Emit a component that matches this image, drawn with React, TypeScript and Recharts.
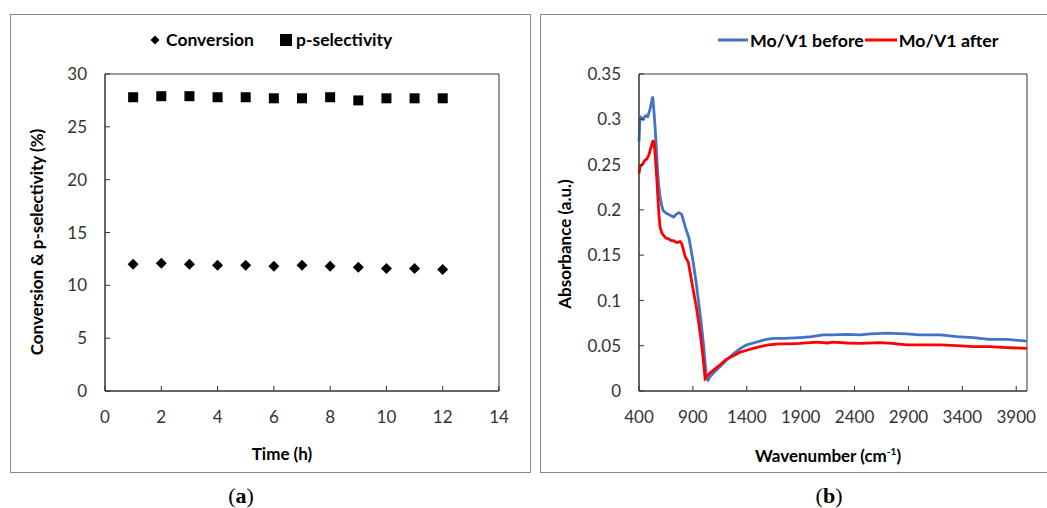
import React from 'react'
import {
  ScatterChart,
  Scatter,
  LineChart,
  Line,
  XAxis,
  YAxis,
  ReferenceArea,
} from 'recharts'

// panel (a): stability over time
const timeHours = [1, 2, 3, 4, 5, 6, 7, 8, 9, 10, 11, 12]
const conversion = [12.0, 12.1, 12.0, 11.9, 11.9, 11.8, 11.9, 11.8, 11.7, 11.6, 11.6, 11.5]
const pSelectivity = [27.8, 27.9, 27.9, 27.8, 27.8, 27.7, 27.7, 27.8, 27.5, 27.7, 27.7, 27.7]
const timeTicks = [0, 2, 4, 6, 8, 10, 12, 14]
const percentTicks = [0, 5, 10, 15, 20, 25, 30]

// panel (b): spectra
const beforeWavenumber = [
  400, 408, 420, 440, 460, 480, 500, 515, 527, 538, 549, 560, 570, 582, 595, 610, 625, 657, 690, 719,
  745, 770, 796, 808, 818, 830, 843, 864, 880, 904, 930, 951, 975, 997, 1012, 1028, 1040, 1059, 1100,
  1152, 1210, 1276, 1340, 1400, 1460, 1523, 1580, 1650, 1750, 1895, 2000, 2111, 2200, 2328, 2450,
  2550, 2700, 2885, 3000, 3195, 3350, 3504, 3650, 3814, 4000,
]
const beforeAbsorbance = [
  0.275, 0.298, 0.302, 0.3, 0.304, 0.303, 0.31, 0.318, 0.325, 0.31, 0.292, 0.27, 0.248, 0.228, 0.215,
  0.205, 0.199, 0.196, 0.194, 0.192, 0.195, 0.197, 0.195, 0.19, 0.186, 0.181, 0.176, 0.169, 0.158,
  0.141, 0.12, 0.1, 0.077, 0.053, 0.033, 0.013, 0.012, 0.016, 0.021, 0.027, 0.034, 0.041, 0.047,
  0.051, 0.053, 0.055, 0.057, 0.058, 0.058, 0.059, 0.06, 0.062, 0.062, 0.0625, 0.062, 0.063, 0.064,
  0.063, 0.062, 0.062, 0.06, 0.059, 0.057, 0.057, 0.055,
]
const afterWavenumber = [
  400, 410, 430, 456, 471, 490, 502, 518, 533, 545, 555, 565, 573, 585, 595, 610, 626, 650, 672, 700,
  719, 750, 781, 795, 805, 818, 830, 858, 880, 904, 930, 951, 975, 997, 1013, 1028, 1060, 1100, 1152,
  1210, 1276, 1340, 1400, 1460, 1523, 1600, 1700, 1800, 1895, 2049, 2150, 2200, 2328, 2450, 2638,
  2750, 2885, 3000, 3195, 3350, 3504, 3650, 3814, 4000,
]
const afterAbsorbance = [
  0.24, 0.248, 0.25, 0.255, 0.256, 0.26, 0.265, 0.272, 0.277, 0.268, 0.252, 0.235, 0.218, 0.195,
  0.181, 0.175, 0.172, 0.169, 0.168, 0.166, 0.166, 0.164, 0.165, 0.163, 0.159, 0.153, 0.148, 0.142,
  0.127, 0.111, 0.094, 0.078, 0.057, 0.034, 0.014, 0.016, 0.02, 0.024, 0.029, 0.035, 0.039, 0.043,
  0.045, 0.047, 0.049, 0.051, 0.052, 0.052, 0.0526, 0.054, 0.053, 0.054, 0.053, 0.0525, 0.0533,
  0.0525, 0.051, 0.051, 0.051, 0.05, 0.049, 0.049, 0.048, 0.047,
]
const waveTicks = [400, 900, 1400, 1900, 2400, 2900, 3400, 3900]
const absTicks = [0, 0.05, 0.1, 0.15, 0.2, 0.25, 0.3, 0.35]

const FONT = 'Lato, "Open Sans", sans-serif'
const TICK_COLOR = '#333'
const FRAME = '#333'

const convData = timeHours.map((t, i) => ({ t, v: conversion[i] }))
const selData = timeHours.map((t, i) => ({ t, v: pSelectivity[i] }))
const beforeData = beforeWavenumber.map((w, i) => ({ w, a: beforeAbsorbance[i] }))
const afterData = afterWavenumber.map((w, i) => ({ w, a: afterAbsorbance[i] }))

const Y_MARGIN = 18
const X_MARGIN = 20

// ticks drawn pointing into the plot
function LeftTick(props: any) {
  const { x, y, payload } = props
  const ax = x + Y_MARGIN
  return (
    <g>
      <line x1={ax} x2={ax + 5} y1={y} y2={y} stroke={FRAME} strokeWidth={1} />
      <text x={x} y={y} dy="0.36em" textAnchor="end" fill={TICK_COLOR} fontSize={17} fontFamily={FONT}>
        {payload.value}
      </text>
    </g>
  )
}

function BottomTick(props: any) {
  const { x, y, payload } = props
  const ay = y - X_MARGIN
  return (
    <g>
      <line x1={x} x2={x} y1={ay} y2={ay - 5} stroke={FRAME} strokeWidth={1} />
      <text x={x} y={y} dy="0.72em" textAnchor="middle" fill={TICK_COLOR} fontSize={17} fontFamily={FONT}>
        {payload.value}
      </text>
    </g>
  )
}

function Diamond(props: any) {
  const { cx, cy } = props
  const r = 5.5
  return <polygon points={`${cx},${cy - r} ${cx + r},${cy} ${cx},${cy + r} ${cx - r},${cy}`} fill="#000" />
}

function Square(props: any) {
  const { cx, cy } = props
  return <rect x={cx - 5} y={cy - 5} width={10} height={10} fill="#000" />
}

const titleStyle: React.CSSProperties = {
  position: 'absolute',
  fontFamily: FONT,
  fontWeight: 700,
  fontSize: 17,
  color: '#000',
  whiteSpace: 'nowrap',
  transform: 'translate(-50%, -50%)',
}

function PanelA() {
  return (
    <div
      style={{
        position: 'absolute',
        left: 10,
        top: 14,
        width: 521,
        height: 459,
        border: '1px solid #8a8a8a',
        boxSizing: 'border-box',
      }}
    >
      <ScatterChart width={519} height={457} margin={{ top: 59, right: 31, left: 0, bottom: 0 }}>
        <XAxis
          type="number"
          dataKey="t"
          domain={[0, 14]}
          ticks={timeTicks}
          height={81}
          axisLine={{ stroke: FRAME }}
          tickLine={false}
          tickSize={0}
          tickMargin={X_MARGIN}
          tick={<BottomTick />}
          interval={0}
        />
        <YAxis
          type="number"
          dataKey="v"
          domain={[0, 30]}
          ticks={percentTicks}
          width={94}
          axisLine={{ stroke: FRAME }}
          tickLine={false}
          tickSize={0}
          tickMargin={Y_MARGIN}
          tick={<LeftTick />}
          interval={0}
        />
        <ReferenceArea x1={0} x2={14} y1={0} y2={30} fill="none" stroke={FRAME} strokeWidth={1} />
        <Scatter name="Conversion" data={convData} shape={<Diamond />} isAnimationActive={false} />
        <Scatter name="p-selectivity" data={selData} shape={<Square />} isAnimationActive={false} />
      </ScatterChart>
      <div
        style={{
          position: 'absolute',
          left: 139,
          top: 14,
          display: 'flex',
          alignItems: 'center',
          gap: 26,
          fontFamily: FONT,
          fontWeight: 700,
          fontSize: 17.5,
          whiteSpace: 'nowrap',
        }}
      >
        <span style={{ display: 'flex', alignItems: 'center', gap: 6 }}>
          <svg width={10} height={10}>
            <polygon points="5,0.5 9.5,5 5,9.5 0.5,5" fill="#000" />
          </svg>
          Conversion
        </span>
        <span style={{ display: 'flex', alignItems: 'center', gap: 4 }}>
          <svg width={12} height={12}>
            <rect x={0} y={0} width={12} height={12} fill="#000" />
          </svg>
          p-selectivity
        </span>
      </div>
    </div>
  )
}

function PanelB() {
  return (
    <div
      style={{
        position: 'absolute',
        left: 540,
        top: 14,
        width: 530,
        height: 459,
        border: '1px solid #8a8a8a',
        boxSizing: 'border-box',
      }}
    >
      <LineChart width={506} height={457} margin={{ top: 59, right: 20, left: 0, bottom: 0 }}>
        <XAxis
          type="number"
          dataKey="w"
          domain={[400, 4000]}
          ticks={waveTicks}
          height={81}
          axisLine={{ stroke: FRAME }}
          tickLine={false}
          tickSize={0}
          tickMargin={X_MARGIN}
          tick={<BottomTick />}
          interval={0}
          allowDuplicatedCategory={false}
        />
        <YAxis
          type="number"
          domain={[0, 0.35]}
          ticks={absTicks}
          width={98}
          axisLine={{ stroke: FRAME }}
          tickLine={false}
          tickSize={0}
          tickMargin={Y_MARGIN}
          tick={<LeftTick />}
          interval={0}
        />
        <ReferenceArea x1={400} x2={4000} y1={0} y2={0.35} fill="none" stroke={FRAME} strokeWidth={1} />
        <Line
          data={beforeData}
          dataKey="a"
          name="Mo/V1 before"
          type="linear"
          stroke="#4472C4"
          strokeWidth={2.8}
          dot={false}
          isAnimationActive={false}
        />
        <Line
          data={afterData}
          dataKey="a"
          name="Mo/V1 after"
          type="linear"
          stroke="#FF0000"
          strokeWidth={2.8}
          dot={false}
          isAnimationActive={false}
        />
      </LineChart>
      <div
        style={{
          position: 'absolute',
          left: 177,
          top: 14,
          display: 'flex',
          alignItems: 'center',
          fontFamily: FONT,
          fontWeight: 700,
          fontSize: 17.8,
          whiteSpace: 'nowrap',
        }}
      >
        <svg width={30} height={4} style={{ marginRight: 2 }}>
          <line x1={0} x2={30} y1={2} y2={2} stroke="#4472C4" strokeWidth={3} />
        </svg>
        Mo/V1 before
        <svg width={32} height={4} style={{ marginLeft: 1, marginRight: 2 }}>
          <line x1={0} x2={32} y1={2} y2={2} stroke="#FF0000" strokeWidth={3} />
        </svg>
        Mo/V1 after
      </div>
    </div>
  )
}

export default function App() {
  return (
    <div
      style={{
        position: 'absolute',
        left: 0,
        top: 0,
        width: 1047,
        height: 508,
        background: '#fff',
        overflow: 'hidden',
      }}
    >
      <PanelA />
      <PanelB />
      <div style={{ ...titleStyle, left: 282, top: 453 }}>Time (h)</div>
      <div style={{ ...titleStyle, left: 36, top: 242, transform: 'translate(-50%, -50%) rotate(-90deg)' }}>
        Conversion &amp; p-selectivity (%)
      </div>
      <div style={{ ...titleStyle, left: 828, top: 455 }}>
        Wavenumber (cm<sup style={{ fontSize: 10 }}>-1</sup>)
      </div>
      <div style={{ ...titleStyle, left: 564, top: 244, transform: 'translate(-50%, -50%) rotate(-90deg)' }}>
        Absorbance (a.u.)
      </div>
      <div
        style={{
          position: 'absolute',
          left: 241,
          top: 496,
          transform: 'translate(-50%, -50%)',
          fontFamily: '"Liberation Serif", serif',
          fontSize: 22,
        }}
      >
        (<b>a</b>)
      </div>
      <div
        style={{
          position: 'absolute',
          left: 829,
          top: 496,
          transform: 'translate(-50%, -50%)',
          fontFamily: '"Liberation Serif", serif',
          fontSize: 22,
        }}
      >
        (<b>b</b>)
      </div>
    </div>
  )
}
